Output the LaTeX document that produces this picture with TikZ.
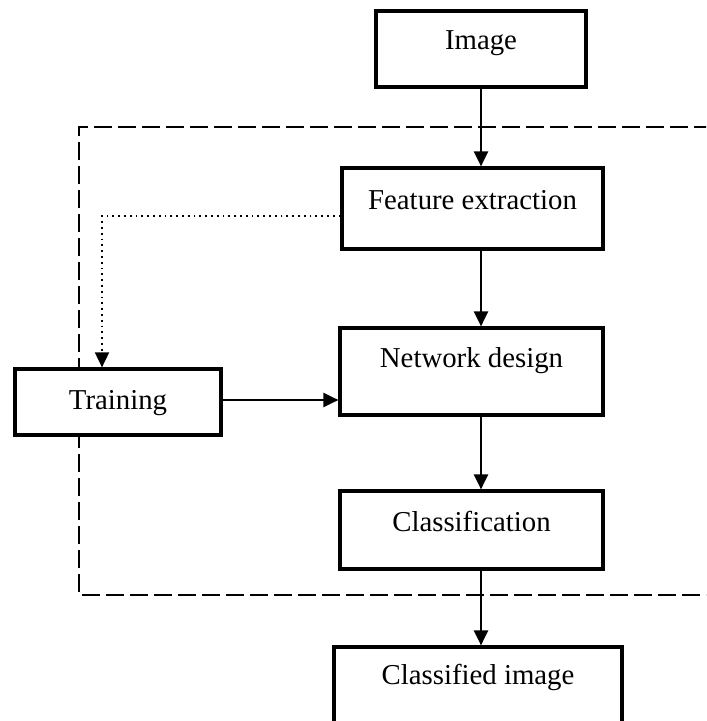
\documentclass[tikz,border=0pt]{standalone}
\usepackage{fontspec}
\setmainfont{Liberation Serif}
\usetikzlibrary{arrows.meta}

\begin{document}
\begin{tikzpicture}[x=0.5pt, y=-0.5pt, >={Triangle[length=7.5pt,width=7pt]},
    blk/.style={rectangle, draw, fill=white, line width=1.6pt, inner sep=0pt, text height=10pt,
        font=\fontsize{14.4}{17}\selectfont},
    arr/.style={->, line width=1.1pt},
    fbk/.style={->, line width=0.9pt, dotted},
    frame/.style={line width=1.3pt, dash pattern=on 9pt off 3pt}]
    \path[use as bounding box, clip] (0,0) rectangle (706,721);

    \draw [frame] (760,127) -- (79,127) -- (79,595) -- (760,595);

    \node [blk, minimum width=105pt, minimum height=38pt, text depth=9.6pt] (img) at (481, 49) {Image};
    \node [blk, minimum width=130.5pt, minimum height=40.5pt, text depth=8.6pt] (feat) at (472.5, 208.5) {Feature extraction};
    \node [blk, minimum width=131.5pt, minimum height=43.5pt, text depth=13.6pt] (net) at (471.5, 371.5) {Network design};
    \node [blk, minimum width=131.5pt, minimum height=39pt, text depth=8.6pt] (cls) at (471.5, 530) {Classification};
    \node [blk, minimum width=144pt, minimum height=40pt, text depth=12.6pt] (out) at (478, 687) {Classified image};
    \node [blk, minimum width=103pt, minimum height=33pt, text depth=2.6pt] (trn) at (118, 402) {Training};
    \coordinate (fb) at (102, 216);

    \draw [arr] (img.south) -- (img.south |- feat.north);
    \draw [arr] (img.south |- feat.south) -- (img.south |- net.north);
    \draw [arr] (img.south |- net.south) -- (img.south |- cls.north);
    \draw [arr] (img.south |- cls.south) -- (img.south |- out.north);
    \draw [arr] ([yshift=1pt]trn.east) -- ([yshift=1pt]trn.east -| net.west);
    \draw [fbk] (feat.west |- fb) -| (trn.north -| fb);
\end{tikzpicture}
\end{document}
